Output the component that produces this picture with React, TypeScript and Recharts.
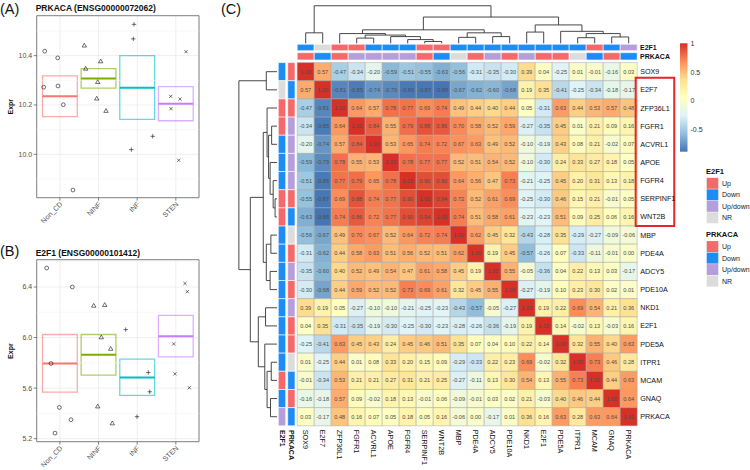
import React from 'react';
import { ScatterChart, Scatter, XAxis, YAxis, CartesianGrid, ReferenceArea, ReferenceLine } from 'recharts';

const FONT = '"Liberation Sans", Arial, Helvetica, sans-serif';

// ---------------- Panels A & B data ----------------
const groups = ['Non_CD', 'NINF', 'INF', 'STEN'];
const groupColors = ['#F8766D', '#7CAE00', '#00BFC4', '#C77CFF'];

const prkacaLow = [10.153, 10.268, 10.142, 10.136];
const prkacaMid = [10.235, 10.307, 10.27, 10.205];
const prkacaHigh = [10.318, 10.347, 10.4, 10.274];
const prkacaNonCD = [{ x: 0.607, y: 10.418 }, { x: 0.943, y: 10.391 }, { x: 0.581, y: 10.272 }, { x: 0.951, y: 10.277 }, { x: 1.088, y: 10.201 }, { x: 1.339, y: 9.855 }];
const prkacaNINF = [{ x: 1.632, y: 10.441 }, { x: 1.668, y: 10.347 }, { x: 2.056, y: 10.377 }, { x: 1.979, y: 10.293 }, { x: 1.953, y: 10.226 }, { x: 2.193, y: 10.176 }];
const prkacaINF = [{ x: 2.918, y: 10.527 }, { x: 2.9, y: 10.468 }, { x: 3.402, y: 10.073 }, { x: 2.849, y: 10.019 }];
const prkacaSTEN = [{ x: 4.264, y: 10.416 }, { x: 3.868, y: 10.235 }, { x: 4.109, y: 10.224 }, { x: 3.876, y: 10.185 }, { x: 4.075, y: 9.976 }];
const prkacaTicks = [10.0, 10.2, 10.4];
const prkacaMinor = [9.9, 10.1, 10.3, 10.5];
const prkacaDomain = [9.824, 10.562];

const e2f1Low = [5.568, 5.702, 5.542, 5.847];
const e2f1Mid = [5.795, 5.863, 5.684, 6.01];
const e2f1High = [6.024, 6.024, 5.829, 6.176];
const e2f1NonCD = [{ x: 0.659, y: 6.55 }, { x: 1.322, y: 6.4 }, { x: 0.77, y: 5.795 }, { x: 0.986, y: 5.447 }, { x: 1.288, y: 5.35 }, { x: 0.874, y: 5.244 }];
const e2f1NINF = [{ x: 1.875, y: 6.252 }, { x: 2.16, y: 6.258 }, { x: 2.072, y: 6.002 }, { x: 2.315, y: 5.911 }, { x: 1.979, y: 5.455 }, { x: 2.357, y: 5.321 }];
const e2f1INF = [{ x: 2.703, y: 6.063 }, { x: 3.288, y: 5.724 }, { x: 3.324, y: 5.571 }, { x: 2.996, y: 5.374 }];
const e2f1STEN = [{ x: 4.238, y: 6.428 }, { x: 4.298, y: 6.363 }, { x: 3.946, y: 5.95 }, { x: 3.979, y: 5.713 }, { x: 4.35, y: 5.603 }];
const e2f1Ticks = [5.2, 5.6, 6.0, 6.4];
const e2f1Minor = [5.4, 5.8, 6.2, 6.6];
const e2f1Domain = [5.176, 6.616];

// ---------------- Heatmap data ----------------
const genes = ['SOX9', 'E2F7', 'ZFP36L1', 'FGFR1', 'ACVRL1', 'APOE', 'FGFR4', 'SERPINF1', 'WNT2B', 'MBP', 'PDE4A', 'ADCY5', 'PDE10A', 'NKD1', 'E2F1', 'PDE5A', 'ITPR1', 'MCAM', 'GNAQ', 'PRKACA'];
const e2f1Status = ['Down', 'NR', 'Up', 'Up', 'Down', 'Down', 'Down', 'Up', 'Up', 'Down', 'Down', 'Down', 'Down', 'Down', 'Down', 'Down', 'Down', 'Up', 'Down', 'Up/down'];
const prkacaStatus = ['Up', 'Down', 'Up', 'Up/down', 'Up/down', 'Up/down', 'Up/down', 'Up', 'Down', 'NR', 'Up', 'Up/down', 'Up', 'Up/down', 'Up', 'Up', 'NR', 'Down', 'Up', 'Down'];
const statusLevels = ['Up', 'Down', 'Up/down', 'NR'];
const statusColors: Record<string, string> = { 'Up': '#F5696B', 'Down': '#1E8CF5', 'Up/down': '#B49EDC', 'NR': '#DCDCDC' };

const corr = [
  [1.00, 0.57, -0.47, -0.34, -0.20, -0.59, -0.51, -0.55, -0.63, -0.56, -0.31, -0.35, -0.30, 0.39, 0.04, -0.25, 0.01, -0.01, -0.16, 0.03],
  [0.57, 1.00, -0.81, -0.85, -0.74, -0.79, -0.86, -0.87, -0.88, -0.67, -0.62, -0.60, -0.68, 0.19, 0.35, -0.41, -0.25, -0.34, -0.18, -0.17],
  [-0.47, -0.81, 1.00, 0.64, 0.57, 0.78, 0.77, 0.69, 0.74, 0.49, 0.44, 0.40, 0.44, 0.05, -0.31, 0.63, 0.44, 0.53, 0.57, 0.48],
  [-0.34, -0.85, 0.64, 1.00, 0.84, 0.55, 0.79, 0.88, 0.86, 0.70, 0.58, 0.52, 0.59, -0.27, -0.35, 0.45, 0.01, 0.21, 0.09, 0.16],
  [-0.20, -0.74, 0.57, 0.84, 1.00, 0.53, 0.65, 0.74, 0.72, 0.67, 0.63, 0.49, 0.52, -0.10, -0.19, 0.43, 0.08, 0.21, -0.02, 0.07],
  [-0.59, -0.79, 0.78, 0.55, 0.53, 1.00, 0.78, 0.77, 0.77, 0.52, 0.51, 0.54, 0.52, -0.10, -0.30, 0.24, 0.33, 0.27, 0.18, 0.05],
  [-0.51, -0.86, 0.77, 0.79, 0.65, 0.78, 1.00, 0.90, 0.90, 0.64, 0.56, 0.47, 0.73, -0.21, -0.25, 0.45, 0.20, 0.31, 0.13, 0.18],
  [-0.55, -0.87, 0.69, 0.88, 0.74, 0.77, 0.90, 1.00, 0.94, 0.72, 0.52, 0.61, 0.69, -0.25, -0.30, 0.46, 0.15, 0.21, -0.01, 0.05],
  [-0.63, -0.88, 0.74, 0.86, 0.72, 0.77, 0.90, 0.94, 1.00, 0.74, 0.51, 0.58, 0.61, -0.23, -0.23, 0.51, 0.09, 0.25, 0.06, 0.16],
  [-0.56, -0.67, 0.49, 0.70, 0.67, 0.52, 0.64, 0.72, 0.74, 1.00, 0.62, 0.45, 0.32, -0.43, -0.28, 0.35, -0.29, -0.27, -0.09, -0.06],
  [-0.31, -0.62, 0.44, 0.58, 0.63, 0.51, 0.56, 0.52, 0.51, 0.62, 1.00, 0.19, 0.45, -0.57, -0.26, 0.07, -0.33, -0.11, -0.01, 0.00],
  [-0.35, -0.60, 0.40, 0.52, 0.49, 0.54, 0.47, 0.61, 0.58, 0.45, 0.19, 1.00, 0.55, -0.05, -0.36, 0.04, 0.22, 0.13, 0.03, -0.17],
  [-0.30, -0.68, 0.44, 0.59, 0.52, 0.52, 0.73, 0.69, 0.61, 0.32, 0.45, 0.55, 1.00, -0.27, -0.19, 0.10, 0.23, 0.30, 0.02, 0.01],
  [0.39, 0.19, 0.05, -0.27, -0.10, -0.10, -0.21, -0.25, -0.23, -0.43, -0.57, -0.05, -0.27, 1.00, 0.19, 0.22, 0.69, 0.54, 0.21, 0.36],
  [0.04, 0.35, -0.31, -0.35, -0.19, -0.30, -0.25, -0.30, -0.23, -0.28, -0.26, -0.36, -0.19, 0.19, 1.00, 0.14, -0.02, 0.13, -0.03, 0.16],
  [-0.25, -0.41, 0.63, 0.45, 0.43, 0.24, 0.45, 0.46, 0.51, 0.35, 0.07, 0.04, 0.10, 0.22, 0.14, 1.00, 0.32, 0.55, 0.40, 0.63],
  [0.01, -0.25, 0.44, 0.01, 0.08, 0.33, 0.20, 0.15, 0.09, -0.29, -0.33, 0.22, 0.23, 0.69, -0.02, 0.32, 1.00, 0.73, 0.46, 0.28],
  [-0.01, -0.34, 0.53, 0.21, 0.21, 0.27, 0.31, 0.21, 0.25, -0.27, -0.11, 0.13, 0.30, 0.54, 0.13, 0.55, 0.73, 1.00, 0.44, 0.63],
  [-0.16, -0.18, 0.57, 0.09, -0.02, 0.18, 0.13, -0.01, 0.06, -0.09, -0.01, 0.03, 0.02, 0.21, -0.03, 0.40, 0.46, 0.44, 1.00, 0.64],
  [0.03, -0.17, 0.48, 0.16, 0.07, 0.05, 0.18, 0.05, 0.16, -0.06, 0.00, -0.17, 0.01, 0.36, 0.16, 0.63, 0.28, 0.63, 0.64, 1.00],
];

// hierarchical clustering tree (leaf = gene index, node = [left, right, mergeHeight])
type Node = number | [Node, Node, number];
const clusterTree: Node = [
  [0, 1, 0.28],
  [
    [
      [2, [[3, 4, 0.14], [5, [6, [7, 8, 0.05], 0.1], 0.18], 0.22], 0.26],
      [[9, 10, 0.16], [11, 12, 0.18], 0.28],
      0.36,
    ],
    [
      [13, 14, 0.3],
      [15, [[16, 17, 0.15], [18, 19, 0.17], 0.26], 0.32],
      0.49,
    ],
    0.7,
  ],
  1.0,
];

const colorBarTicks = [1, 0.5, 0, -0.5];
const PALETTE = ['#4575B4', '#91BFDB', '#E0F3F8', '#FFFFBF', '#FEE090', '#FC8D59', '#D73027'];

// ---------------- helpers ----------------
const allVals = corr.flat();
const VMIN = Math.min(...allVals);
const VMAX = Math.max(...allVals);

function hexToRgb(h: string) {
  const n = parseInt(h.slice(1), 16);
  return [(n >> 16) & 255, (n >> 8) & 255, n & 255];
}
function heatColor(v: number) {
  const t = Math.max(0, Math.min(1, (v - VMIN) / (VMAX - VMIN)));
  const seg = t * (PALETTE.length - 1);
  const i = Math.min(PALETTE.length - 2, Math.floor(seg));
  const f = seg - i;
  const a = hexToRgb(PALETTE[i]);
  const b = hexToRgb(PALETTE[i + 1]);
  const c = a.map((x, k) => Math.round(x + (b[k] - x) * f));
  return `rgb(${c[0]},${c[1]},${c[2]})`;
}

function treeSegments(node: Node, out: number[][]): { pos: number; h: number } {
  if (typeof node === 'number') return { pos: node, h: 0 };
  const a = treeSegments(node[0], out);
  const b = treeSegments(node[1], out);
  const h = node[2];
  out.push([a.pos, a.h, a.pos, h]);
  out.push([b.pos, b.h, b.pos, h]);
  out.push([a.pos, h, b.pos, h]);
  return { pos: (a.pos + b.pos) / 2, h };
}
const treeSegs: number[][] = [];
treeSegments(clusterTree, treeSegs);

const cellData = corr.flatMap((row, r) => row.map((v, c) => ({ col: c, row: r, v, label: v.toFixed(2) })));

// ---------------- shapes ----------------
const PT = { fill: 'none', stroke: '#111', strokeWidth: 0.6 };
const shapeCircle = (p: any) => <circle cx={p.cx} cy={p.cy} r={1.9} {...PT} />;
const shapeTri = (p: any) => {
  const s = 2.3;
  return <path d={`M${p.cx},${p.cy - s} L${p.cx + s * 0.95},${p.cy + s * 0.65} L${p.cx - s * 0.95},${p.cy + s * 0.65} Z`} {...PT} />;
};
const shapePlus = (p: any) => {
  const s = 2.2;
  return <path d={`M${p.cx - s},${p.cy} H${p.cx + s} M${p.cx},${p.cy - s} V${p.cy + s}`} {...PT} />;
};
const shapeX = (p: any) => {
  const s = 1.6;
  return <path d={`M${p.cx - s},${p.cy - s} L${p.cx + s},${p.cy + s} M${p.cx - s},${p.cy + s} L${p.cx + s},${p.cy - s}`} {...PT} />;
};
const groupShapes = [shapeCircle, shapeTri, shapePlus, shapeX];

const GroupTick = (props: any) => {
  const { x, y, payload } = props;
  return (
    <text x={x} y={y} dy="0.6em" transform={`rotate(-45, ${x}, ${y})`} textAnchor="end" fontSize={7} fill="#4d4d4d" fontFamily={FONT}>
      {groups[payload.value - 1]}
    </text>
  );
};

function BoxPanel(props: any) {
  const { yDomain, ticks, minor, low, mid, high, points } = props;
  return (
    <ScatterChart width={205} height={235} margin={{ top: 15.7, right: 6, bottom: 0, left: 0 }}>
      <CartesianGrid stroke="#ebebeb" strokeWidth={0.8} />
      {minor.map((m: number) => (
        <ReferenceLine key={'mn' + m} y={m} stroke="#f4f4f4" strokeWidth={0.6} />
      ))}
      <XAxis type="number" dataKey="x" domain={[0.4, 4.6]} ticks={[1, 2, 3, 4]} interval={0} height={37.3} tickSize={3} tickMargin={1}
        tickLine={{ stroke: '#333', strokeWidth: 0.6 }} axisLine={false} tick={<GroupTick />} allowDataOverflow />
      <YAxis type="number" dataKey="y" domain={yDomain} ticks={ticks} interval={0} width={36.7} tickSize={3} tickMargin={1.5}
        tickLine={{ stroke: '#333', strokeWidth: 0.6 }} axisLine={false} tickFormatter={(v: number) => v.toFixed(1)}
        tick={{ fontSize: 7, fill: '#4d4d4d', fontFamily: FONT }} allowDataOverflow />
      {groups.map((g, i) => (
        <ReferenceArea key={'bx' + g} x1={i + 1 - 0.45} x2={i + 1 + 0.45} y1={low[i]} y2={high[i]} fill="none" fillOpacity={0}
          stroke={groupColors[i]} strokeOpacity={0.6} strokeWidth={1.3} ifOverflow="visible" />
      ))}
      {groups.map((g, i) => (
        <ReferenceLine key={'md' + g} segment={[{ x: i + 1 - 0.45, y: mid[i] }, { x: i + 1 + 0.45, y: mid[i] }]}
          stroke={groupColors[i]} strokeWidth={2} ifOverflow="visible" />
      ))}
      {points.map((pts: any[], i: number) => (
        <Scatter key={'sc' + i} data={pts} shape={groupShapes[i]} isAnimationActive={false} />
      ))}
      <ReferenceArea x1={0.4} x2={4.6} y1={yDomain[0]} y2={yDomain[1]} fill="none" fillOpacity={0} stroke="#666" strokeWidth={0.8} ifOverflow="visible" />
    </ScatterChart>
  );
}

// heatmap layout (in cell units)
const TOP_TREE_BASE = -1.56;
const TOP_TREE_SPAN = 2.07;
const LEFT_TREE_BASE = -1.69;
const LEFT_TREE_SPAN = 2.24;
const TOP_TRACKS = [[-1.51, -1.155], [-1.045, -0.643]];
const LEFT_TRACKS = [[-1.612, -1.176], [-1.059, -0.629]];

const RowTick = (props: any) => {
  const { x, y, payload } = props;
  return (
    <text x={x} y={y} dy="0.35em" textAnchor="start" fontSize={7.2} fill="#111" fontFamily={FONT}>{genes[payload.value]}</text>
  );
};
const ColTick = (props: any) => {
  const { x, y, payload } = props;
  return (
    <text x={x} y={y} dy="0.35em" transform={`rotate(90, ${x}, ${y})`} textAnchor="start" fontSize={7.2} fill="#111" fontFamily={FONT}>{genes[payload.value]}</text>
  );
};
const NumberShape = (p: any) => {
  const lab = p.payload ? p.payload.label : p.label;
  return (
    <text x={p.cx} y={p.cy} dy="0.35em" textAnchor="middle" fontSize={5.6} fill="#4d4d4d" fontFamily={FONT}>{lab}</text>
  );
};

function Heatmap() {
  const idx = genes.map((g, i) => i);
  const tracks = [e2f1Status, prkacaStatus];
  return (
    <ScatterChart width={524} height={470} margin={{ top: 62.6, right: 72.8, bottom: 0, left: 71.2 }}>
      <XAxis type="number" dataKey="col" domain={[-0.5, 19.5]} ticks={idx} interval={0} height={44.2} tickSize={0} tickMargin={4}
        axisLine={false} tickLine={false} tick={<ColTick />} allowDataOverflow />
      <YAxis type="number" dataKey="row" orientation="right" reversed domain={[-0.5, 19.5]} ticks={idx} interval={0} width={40}
        tickSize={0} tickMargin={3} axisLine={false} tickLine={false} tick={<RowTick />} allowDataOverflow />
      {cellData.map((d) => (
        <ReferenceArea key={`c${d.row}-${d.col}`} x1={d.col - 0.5} x2={d.col + 0.5} y1={d.row - 0.5} y2={d.row + 0.5}
          fill={heatColor(d.v)} fillOpacity={1} stroke="#a6a6a6" strokeWidth={0.5} ifOverflow="visible" />
      ))}
      {tracks.map((tr, t) => tr.map((s, i) => (
        <ReferenceArea key={`ta${t}-${i}`} x1={i - 0.5} x2={i + 0.5} y1={TOP_TRACKS[t][0]} y2={TOP_TRACKS[t][1]}
          fill={statusColors[s]} fillOpacity={1} stroke="#ffffff" strokeWidth={0.6} ifOverflow="visible" />
      )))}
      {tracks.map((tr, t) => tr.map((s, i) => (
        <ReferenceArea key={`la${t}-${i}`} x1={LEFT_TRACKS[t][0]} x2={LEFT_TRACKS[t][1]} y1={i - 0.5} y2={i + 0.5}
          fill={statusColors[s]} fillOpacity={1} stroke="#ffffff" strokeWidth={0.6} ifOverflow="visible" />
      )))}
      {treeSegs.map((s, i) => (
        <ReferenceLine key={'td' + i} segment={[{ x: s[0], y: TOP_TREE_BASE - s[1] * TOP_TREE_SPAN }, { x: s[2], y: TOP_TREE_BASE - s[3] * TOP_TREE_SPAN }]}
          stroke="#333" strokeWidth={0.9} ifOverflow="visible" />
      ))}
      {treeSegs.map((s, i) => (
        <ReferenceLine key={'ld' + i} segment={[{ x: LEFT_TREE_BASE - s[1] * LEFT_TREE_SPAN, y: s[0] }, { x: LEFT_TREE_BASE - s[3] * LEFT_TREE_SPAN, y: s[2] }]}
          stroke="#333" strokeWidth={0.9} ifOverflow="visible" />
      ))}
      <Scatter data={cellData} shape={NumberShape} isAnimationActive={false} />
      <ReferenceArea x1={19.41} x2={21.68} y1={0.33} y2={8.5} fill="none" fillOpacity={0} stroke="#E3262B" strokeWidth={2} ifOverflow="visible" />
    </ScatterChart>
  );
}

const CB_TOP = 43.3;
const CB_BOTTOM = 151.7;
const cbY = (v: number) => CB_TOP + ((VMAX - v) / (VMAX - VMIN)) * (CB_BOTTOM - CB_TOP);

function Overlay() {
  const txt = { fontFamily: FONT } as any;
  const stops = PALETTE.map((c, i) => ({ c, off: 1 - i / (PALETTE.length - 1) })).reverse();
  const legendBlock = (title: string, top: number) => (
    <g>
      <text x={706} y={top} fontSize={7.5} fontWeight="bold" fill="#111" {...txt}>{title}</text>
      {statusLevels.map((s, i) => (
        <g key={title + s}>
          <rect x={706.7} y={top + 4.3 + i * 11.5} width={11.6} height={11} fill={statusColors[s]} />
          <text x={722} y={top + 9.8 + i * 11.5} dy="0.35em" fontSize={7} fill="#222" {...txt}>{s}</text>
        </g>
      ))}
    </g>
  );
  return (
    <svg width={750} height={470} style={{ position: 'absolute', left: 0, top: 0, pointerEvents: 'none' }}>
      <defs>
        <linearGradient id="cbgrad" x1="0" y1="0" x2="0" y2="1">
          {stops.map((s) => (
            <stop key={s.c} offset={`${s.off * 100}%`} stopColor={s.c} />
          ))}
        </linearGradient>
      </defs>
      <text x={0} y={13.5} fontSize={14.5} fill="#111" {...txt}>(A)</text>
      <text x={35.7} y={11.3} fontSize={8.5} fontWeight="bold" fill="#111" {...txt}>PRKACA (ENSG00000072062)</text>
      <text transform="translate(12.5,106.7) rotate(-90)" textAnchor="middle" fontSize={7} fontWeight="bold" fill="#111" {...txt}>Expr</text>
      <text x={0} y={256} fontSize={14.5} fill="#111" {...txt}>(B)</text>
      <text x={35.7} y={255.6} fontSize={8.5} fontWeight="bold" fill="#111" {...txt}>E2F1 (ENSG00000101412)</text>
      <text transform="translate(12.5,351.1) rotate(-90)" textAnchor="middle" fontSize={7} fontWeight="bold" fill="#111" {...txt}>Expr</text>
      <text x={221} y={14} fontSize={14.5} fill="#111" {...txt}>(C)</text>

      <text x={640} y={47.5} dy="0.35em" fontSize={7} fontWeight="bold" fill="#111" {...txt}>E2F1</text>
      <text x={640} y={56.3} dy="0.35em" fontSize={7} fontWeight="bold" fill="#111" {...txt}>PRKACA</text>
      <text transform="translate(282,430) rotate(90)" dy="0.35em" fontSize={7} fontWeight="bold" fill="#111" {...txt}>E2F1</text>
      <text transform="translate(291.3,430) rotate(90)" dy="0.35em" fontSize={7} fontWeight="bold" fill="#111" {...txt}>PRKACA</text>

      <rect x={680} y={CB_TOP} width={7.5} height={CB_BOTTOM - CB_TOP} fill="url(#cbgrad)" />
      {colorBarTicks.map((t) => (
        <text key={'cb' + t} x={690.5} y={cbY(t)} dy="0.35em" fontSize={7} fill="#333" {...txt}>{String(t)}</text>
      ))}
      {legendBlock('E2F1', 173.5)}
      {legendBlock('PRKACA', 236.8)}
    </svg>
  );
}

export default function App() {
  return (
    <div style={{ position: 'absolute', left: 0, top: 0, width: 750, height: 470, background: '#fff', overflow: 'hidden' }}>
      <div style={{ position: 'absolute', left: 0, top: 0 }}>
        <BoxPanel yDomain={prkacaDomain} ticks={prkacaTicks} minor={prkacaMinor} low={prkacaLow} mid={prkacaMid} high={prkacaHigh}
          points={[prkacaNonCD, prkacaNINF, prkacaINF, prkacaSTEN]} />
      </div>
      <div style={{ position: 'absolute', left: 0, top: 244.3 }}>
        <BoxPanel yDomain={e2f1Domain} ticks={e2f1Ticks} minor={e2f1Minor} low={e2f1Low} mid={e2f1Mid} high={e2f1High}
          points={[e2f1NonCD, e2f1NINF, e2f1INF, e2f1STEN]} />
      </div>
      <div style={{ position: 'absolute', left: 226, top: 0 }}>
        <Heatmap />
      </div>
      <Overlay />
    </div>
  );
}
